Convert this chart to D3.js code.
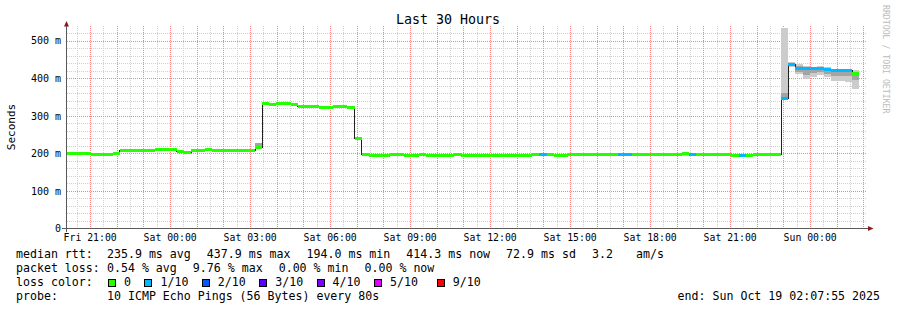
<!DOCTYPE html>
<html>
<head>
<meta charset="utf-8">
<script src="https://cdn.jsdelivr.net/npm/d3@7"></script>
<style>
    body { margin: 0; background: #fff; }
    svg text { font-family: "DejaVu Sans Mono", monospace; fill: #000; }
</style>
</head>
<body>
<svg id="chart" width="897" height="310"></svg>
<script>

// time window of the graph (30 hours) and the 16 minute RRD step
const startTime = new Date(2025, 9, 17, 20, 7, 55);
const endTime = new Date(2025, 9, 19, 2, 7, 55);
const firstStepEnd = new Date(2025, 9, 17, 20, 15, 0);
const stepMinutes = 16;

// median rtt per step, in ms
const medianMs = [
    199, 199, 199, 200.5, 198.4, 198.4, 198.4, 200.5, 207, 209,
    207.5, 207.5, 207.5, 209.5, 209.5, 209.5, 204.6, 202.4, 209, 209,
    210, 208.5, 208.5, 209, 208, 208, 208, 217, 334, 330,
    333, 332, 329, 324, 326, 325, 323, 323, 325.5, 325.5,
    323.5, 240, 196, 194.3, 194.3, 194.3, 196, 196, 194.3, 194.3,
    196, 194.3, 194.3, 194.3, 194.3, 196, 194.8, 194.8, 194.8, 194.8,
    194.8, 194.8, 194.8, 194.8, 194.8, 194.8, 196.2, 196, 196.2, 194.5,
    194.5, 196.2, 196.2, 196.2, 196.2, 196.2, 196.2, 197, 197, 197,
    196.5, 196.5, 196.5, 196.5, 196.5, 196.5, 196.5, 199.5, 198, 196.5,
    196.5, 196.5, 196.5, 196.5, 194.5, 194.5, 195.5, 196.5, 196.5, 196.5,
    196.5, 347, 437, 425, 425, 425, 426, 423, 420, 420,
    420, 414
];

// steps with lost pings (average pings lost out of 10)
const lossSteps = [67, 78, 79, 88, 95, 101, 102, 103, 104, 105, 106, 107, 108, 109, 110];
const lossPings = [0.2, 0.3, 0.4, 0.5, 0.2, 0.976, 0.8, 0.4, 0.4, 0.4, 0.3, 0.3, 0.3, 0.3, 0.3];

// smoke (spread of the 10 pings) where it shows around the median, in ms
const smokeSteps = [9, 10, 11, 12, 27, 77, 78, 79, 87, 88, 91, 92, 101, 102, 103, 104, 105, 106, 107, 108, 109, 110, 111];
const smokeLow = [207, 206, 206, 206, 214, 196, 195, 195, 193, 195, 194, 194, 341, 430, 412, 399, 403, 408, 403, 394, 394, 390, 372];
const smokeHigh = [213, 212, 212, 212, 229, 202, 202, 202, 205, 201, 198, 198, 533, 444, 438, 434, 430, 434, 430, 425, 425, 421, 421];
const coreLow = [208, 207, 207, 207, 215, 197, 196, 196, 195, 196, 195, 195, 344, 433, 418, 410, 415, 418, 412, 405, 405, 405, 395];
const coreHigh = [211, 210, 210, 210, 229, 200, 200, 200, 201, 200, 197, 197, 362, 441, 432, 430, 428, 430, 427, 423, 422, 420, 416];

// loss colour legend
const lossColors = ["#26ff00", "#00b8ff", "#0059ff", "#5e00ff", "#7e00ff", "#dd00ff", "#ff0000"];
const lossLabels = ["0", "1/10", "2/10", "3/10", "4/10", "5/10", "9/10"];
const lossUpper = [0, 1, 2, 3, 4, 5, 10];

const yTicks = [0, 100, 200, 300, 400, 500];
const yMax = 538;

const medianStats = ["235.9 ms avg  ", "437.9 ms max  ", "194.0 ms min  ", "414.3 ms now  ", "72.9 ms sd  ", "3.2   ", "am/s"];
const lossStats = ["0.54 % avg  ", "9.76 % max  ", "0.00 % min  ", "0.00 % now"];
const probeText = "10 ICMP Echo Pings (56 Bytes) every 80s";
const endText = "end: Sun Oct 19 02:07:55 2025";

const svg = d3.select("#chart");

const plot = { left: 67, right: 867, top: 26.5, bottom: 228.5 };
const charW = 6.97;

const xScale = d3.scaleTime()
    .domain([startTime, endTime])
    .range([plot.left, plot.right]);

const yScale = d3.scaleLinear()
    .domain([0, yMax])
    .range([plot.bottom, plot.top]);

// build step table
const steps = medianMs.map((v, i) => {
    let t1 = d3.timeMinute.offset(firstStepEnd, i * stepMinutes);
    let t0 = d3.timeMinute.offset(t1, -stepMinutes);
    let li = lossSteps.indexOf(i);
    return { i: i, t0: t0, t1: t1, median: v, loss: li < 0 ? 0 : lossPings[li] };
});

const smoke = smokeSteps.map((s, k) => ({
    t0: steps[s].t0, t1: steps[s].t1,
    lo: smokeLow[k], hi: smokeHigh[k], clo: coreLow[k], chi: coreHigh[k]
}));

function lossColor(loss) {
    let idx = lossUpper.findIndex(u => loss <= u);
    return lossColors[idx];
}

svg.append("defs").append("clipPath")
    .attr("id", "plotClip")
    .append("rect")
    .attr("x", plot.left)
    .attr("y", plot.top - 1)
    .attr("width", plot.right - plot.left)
    .attr("height", plot.bottom - plot.top + 1);

// grid: dotted lines, grey every 30 min / 20 ms, red every hour / 100 ms
const grid = svg.append("g");
const minorColor = "#d0d0d0";
const majorColor = "#ff8080";

function vLines(cls, dates, color) {
    grid.selectAll("line." + cls)
        .data(dates)
        .join("line")
        .attr("class", cls)
        .attr("x1", d => Math.round(xScale(d)) + 0.5)
        .attr("x2", d => Math.round(xScale(d)) + 0.5)
        .attr("y1", Math.floor(plot.top))
        .attr("y2", Math.floor(plot.bottom))
        .style("stroke", color)
        .style("stroke-dasharray", "1,1");
}

function hLines(cls, values, color) {
    grid.selectAll("line." + cls)
        .data(values)
        .join("line")
        .attr("class", cls)
        .attr("x1", plot.left)
        .attr("x2", plot.right)
        .attr("y1", d => Math.round(yScale(d)) + 0.5)
        .attr("y2", d => Math.round(yScale(d)) + 0.5)
        .style("stroke", color)
        .style("stroke-dasharray", "1,1");
}

let halfHours = d3.timeMinute.every(30).range(startTime, endTime);
vLines("vminor", halfHours.filter(d => d.getMinutes() !== 0), minorColor);
hLines("hminor", d3.range(20, yMax, 20).filter(d => d % 100 !== 0), minorColor);
vLines("vmajor", d3.timeHour.every(1).range(startTime, endTime), majorColor);
hLines("hmajor", yTicks.filter(d => d > 0), majorColor);

// data
const dataG = svg.append("g")
    .attr("clip-path", "url(#plotClip)")
    .attr("shape-rendering", "crispEdges");

dataG.selectAll("rect.smoke")
    .data(smoke)
    .join("rect")
    .attr("class", "smoke")
    .attr("x", d => xScale(d.t0))
    .attr("width", d => xScale(d.t1) - xScale(d.t0))
    .attr("y", d => yScale(d.hi))
    .attr("height", d => yScale(d.lo) - yScale(d.hi))
    .attr("fill", "#cccccc");

dataG.selectAll("rect.core")
    .data(smoke)
    .join("rect")
    .attr("class", "core")
    .attr("x", d => xScale(d.t0))
    .attr("width", d => xScale(d.t1) - xScale(d.t0))
    .attr("y", d => yScale(d.chi))
    .attr("height", d => yScale(d.clo) - yScale(d.chi))
    .attr("fill", "#a4a4a4");

let linePts = steps.map(d => [d.t0, d.median]);
linePts.push([steps[steps.length - 1].t1, steps[steps.length - 1].median]);

dataG.append("path")
    .datum(linePts)
    .attr("fill", "none")
    .attr("stroke", "#202020")
    .attr("stroke-width", 1)
    .attr("d", d3.line()
        .x(d => xScale(d[0]))
        .y(d => yScale(d[1]))
        .curve(d3.curveStepAfter));

dataG.selectAll("rect.band")
    .data(steps)
    .join("rect")
    .attr("class", "band")
    .attr("x", d => xScale(d.t0))
    .attr("width", d => xScale(d.t1) - xScale(d.t0))
    .attr("y", d => yScale(d.median) - 1.5)
    .attr("height", 3)
    .attr("fill", d => lossColor(d.loss));

// axes
const axisColor = "#5a5a5a";
const arrowColor = "#8b1a1a";

svg.append("line")
    .attr("x1", plot.left - 5).attr("x2", plot.right + 3)
    .attr("y1", plot.bottom).attr("y2", plot.bottom)
    .attr("stroke", axisColor)
    .attr("shape-rendering", "crispEdges");

svg.append("line")
    .attr("x1", plot.left - 0.5).attr("x2", plot.left - 0.5)
    .attr("y1", plot.bottom + 3).attr("y2", plot.top - 3)
    .attr("stroke", axisColor)
    .attr("shape-rendering", "crispEdges");

svg.append("path")
    .attr("d", `M${plot.right + 1},${plot.bottom - 2.5} L${plot.right + 6.5},${plot.bottom} L${plot.right + 1},${plot.bottom + 2.5} Z`)
    .attr("fill", arrowColor);

svg.append("path")
    .attr("d", `M${plot.left - 3},${plot.top} L${plot.left - 0.5},${plot.top - 5.5} L${plot.left + 2},${plot.top} Z`)
    .attr("fill", arrowColor);

// tick labels
svg.selectAll("text.ylab")
    .data(yTicks)
    .join("text")
    .attr("class", "ylab")
    .attr("x", plot.left - 6)
    .attr("y", d => yScale(d) + 3.7)
    .attr("text-anchor", "end")
    .attr("font-size", "10px")
    .text(d => d === 0 ? "0" : d + " m");

const fmt = d3.timeFormat("%a %H:%M");
svg.selectAll("text.xlab")
    .data(d3.timeHour.every(3).range(startTime, endTime))
    .join("text")
    .attr("class", "xlab")
    .attr("x", d => xScale(d))
    .attr("y", 241)
    .attr("text-anchor", "middle")
    .attr("font-size", "9.8px")
    .text(d => fmt(d));

// titles
svg.append("text")
    .attr("x", 448)
    .attr("y", 23.5)
    .attr("text-anchor", "middle")
    .attr("font-size", "13.3px")
    .text("Last 30 Hours");

svg.append("text")
    .attr("transform", "translate(15,127) rotate(-90)")
    .attr("text-anchor", "middle")
    .attr("font-size", "11px")
    .text("Seconds");

svg.append("text")
    .attr("transform", "translate(883,5) rotate(90)")
    .attr("font-size", "8.2px")
    .style("fill", "#bcbcbc")
    .text("RRDTOOL / TOBI OETIKER");

// legend
const legend = svg.append("g").attr("font-size", "11.6px");
const rowY = [257.5, 271.5, 285.5, 299.5];
const valueX = 107;

function legendRow(y, label, items) {
    legend.append("text").attr("x", 16).attr("y", y).text(label);
    let x = valueX;
    items.forEach(s => {
        legend.append("text").attr("x", x).attr("y", y).text(s.trim());
        x += s.length * charW + 2.2;
    });
}

legendRow(rowY[0], "median rtt:", medianStats);
legendRow(rowY[1], "packet loss:", lossStats);
legendRow(rowY[3], "probe:", [probeText]);

legend.append("text").attr("x", 16).attr("y", rowY[2]).text("loss color:");

let bx = valueX + 1;
lossLabels.forEach((lab, k) => {
    if (k === lossLabels.length - 1) bx += 5.5;
    legend.append("rect")
        .attr("x", bx + 0.5).attr("y", rowY[2] - 6.5)
        .attr("width", 7).attr("height", 7)
        .attr("fill", lossColors[k])
        .attr("stroke", "#000")
        .attr("shape-rendering", "crispEdges");
    legend.append("text").attr("x", bx + 16).attr("y", rowY[2]).text(lab);
    bx += 16 + lab.length * charW + 13.5;
});

legend.append("text")
    .attr("x", 880)
    .attr("y", rowY[3])
    .attr("text-anchor", "end")
    .text(endText);

</script>
</body>
</html>
